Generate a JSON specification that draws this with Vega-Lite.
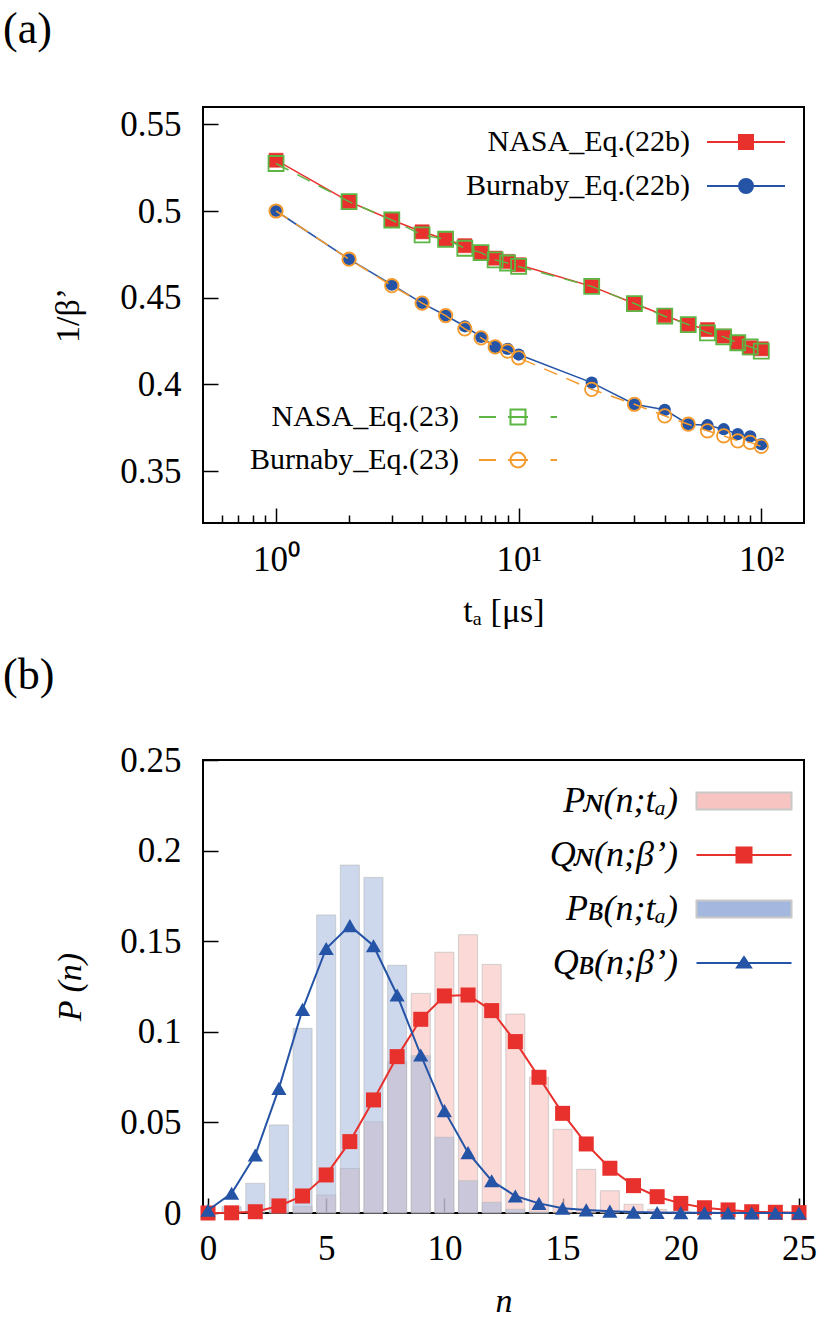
{
  "$schema": "https://vega.github.io/schema/vega-lite/v6.json",
  "background": "white",
  "padding": {"left": 2, "top": 7, "right": 10, "bottom": 5},
  "spacing": 237,
  "bounds": "flush",
  "config": {
    "view": {"stroke": "#000", "strokeWidth": 2},
    "font": "Liberation Serif",
    "axis": {"grid": false, "domain": false, "labelFont": "Liberation Serif", "titleFont": "Liberation Serif", "labelFontSize": 35, "titleFontSize": 34, "tickColor": "#000", "tickWidth": 1.5, "labelColor": "#000", "titleColor": "#000", "titleFontWeight": "normal", "zindex": 1, "labelOverlap": false, "labelFlush": false},
    "legend": {"labelFont": "Liberation Serif", "labelColor": "#000", "symbolOpacity": 1, "padding": 0, "labelLimit": 600, "labelAlign": "right", "symbolStrokeWidth": 2, "orient": "none", "symbolSize": 1600},
    "title": {"font": "Liberation Serif", "fontSize": 44, "fontWeight": "normal", "anchor": "start", "frame": "group", "color": "#000"}
  },
  "vconcat": [
    {
      "width": 601,
      "height": 416,
      "title": {"text": "(a)", "dx": -200, "offset": 20, "baseline": "alphabetic"},
      "data": {"values": [
        {"t":1,"v":0.5293,"series":"NASA_Eq.(22b)"},{"t":2,"v":0.5054,"series":"NASA_Eq.(22b)"},{"t":3,"v":0.4948,"series":"NASA_Eq.(22b)"},{"t":4,"v":0.488,"series":"NASA_Eq.(22b)"},{"t":5,"v":0.4837,"series":"NASA_Eq.(22b)"},{"t":6,"v":0.48,"series":"NASA_Eq.(22b)"},{"t":7,"v":0.476,"series":"NASA_Eq.(22b)"},{"t":8,"v":0.4728,"series":"NASA_Eq.(22b)"},{"t":9,"v":0.4709,"series":"NASA_Eq.(22b)"},{"t":10,"v":0.469,"series":"NASA_Eq.(22b)"},{"t":20,"v":0.4565,"series":"NASA_Eq.(22b)"},{"t":30,"v":0.4466,"series":"NASA_Eq.(22b)"},{"t":40,"v":0.4397,"series":"NASA_Eq.(22b)"},{"t":50,"v":0.4345,"series":"NASA_Eq.(22b)"},{"t":60,"v":0.4316,"series":"NASA_Eq.(22b)"},{"t":70,"v":0.4278,"series":"NASA_Eq.(22b)"},{"t":80,"v":0.424,"series":"NASA_Eq.(22b)"},{"t":90,"v":0.4211,"series":"NASA_Eq.(22b)"},{"t":100,"v":0.4205,"series":"NASA_Eq.(22b)"},
        {"t":1,"v":0.5,"series":"Burnaby_Eq.(22b)"},{"t":2,"v":0.4722,"series":"Burnaby_Eq.(22b)"},{"t":3,"v":0.4575,"series":"Burnaby_Eq.(22b)"},{"t":4,"v":0.4469,"series":"Burnaby_Eq.(22b)"},{"t":5,"v":0.4397,"series":"Burnaby_Eq.(22b)"},{"t":6,"v":0.4335,"series":"Burnaby_Eq.(22b)"},{"t":7,"v":0.4274,"series":"Burnaby_Eq.(22b)"},{"t":8,"v":0.4216,"series":"Burnaby_Eq.(22b)"},{"t":9,"v":0.4205,"series":"Burnaby_Eq.(22b)"},{"t":10,"v":0.4172,"series":"Burnaby_Eq.(22b)"},{"t":20,"v":0.401,"series":"Burnaby_Eq.(22b)"},{"t":30,"v":0.3885,"series":"Burnaby_Eq.(22b)"},{"t":40,"v":0.3853,"series":"Burnaby_Eq.(22b)"},{"t":50,"v":0.377,"series":"Burnaby_Eq.(22b)"},{"t":60,"v":0.3764,"series":"Burnaby_Eq.(22b)"},{"t":70,"v":0.3741,"series":"Burnaby_Eq.(22b)"},{"t":80,"v":0.3713,"series":"Burnaby_Eq.(22b)"},{"t":90,"v":0.37,"series":"Burnaby_Eq.(22b)"},{"t":100,"v":0.3655,"series":"Burnaby_Eq.(22b)"},
        {"t":1,"v":0.5274,"series":"NASA_Eq.(23)"},{"t":2,"v":0.5054,"series":"NASA_Eq.(23)"},{"t":3,"v":0.4948,"series":"NASA_Eq.(23)"},{"t":4,"v":0.4862,"series":"NASA_Eq.(23)"},{"t":5,"v":0.4837,"series":"NASA_Eq.(23)"},{"t":6,"v":0.4785,"series":"NASA_Eq.(23)"},{"t":7,"v":0.476,"series":"NASA_Eq.(23)"},{"t":8,"v":0.4718,"series":"NASA_Eq.(23)"},{"t":9,"v":0.47,"series":"NASA_Eq.(23)"},{"t":10,"v":0.468,"series":"NASA_Eq.(23)"},{"t":20,"v":0.4565,"series":"NASA_Eq.(23)"},{"t":30,"v":0.4466,"series":"NASA_Eq.(23)"},{"t":40,"v":0.4393,"series":"NASA_Eq.(23)"},{"t":50,"v":0.4345,"series":"NASA_Eq.(23)"},{"t":60,"v":0.4297,"series":"NASA_Eq.(23)"},{"t":70,"v":0.4274,"series":"NASA_Eq.(23)"},{"t":80,"v":0.424,"series":"NASA_Eq.(23)"},{"t":90,"v":0.4216,"series":"NASA_Eq.(23)"},{"t":100,"v":0.4192,"series":"NASA_Eq.(23)"},
        {"t":1,"v":0.5,"series":"Burnaby_Eq.(23)"},{"t":2,"v":0.4722,"series":"Burnaby_Eq.(23)"},{"t":3,"v":0.4569,"series":"Burnaby_Eq.(23)"},{"t":4,"v":0.4469,"series":"Burnaby_Eq.(23)"},{"t":5,"v":0.4397,"series":"Burnaby_Eq.(23)"},{"t":6,"v":0.432,"series":"Burnaby_Eq.(23)"},{"t":7,"v":0.4268,"series":"Burnaby_Eq.(23)"},{"t":8,"v":0.4216,"series":"Burnaby_Eq.(23)"},{"t":9,"v":0.4192,"series":"Burnaby_Eq.(23)"},{"t":10,"v":0.4153,"series":"Burnaby_Eq.(23)"},{"t":20,"v":0.3971,"series":"Burnaby_Eq.(23)"},{"t":30,"v":0.3885,"series":"Burnaby_Eq.(23)"},{"t":40,"v":0.3818,"series":"Burnaby_Eq.(23)"},{"t":50,"v":0.377,"series":"Burnaby_Eq.(23)"},{"t":60,"v":0.3732,"series":"Burnaby_Eq.(23)"},{"t":70,"v":0.3703,"series":"Burnaby_Eq.(23)"},{"t":80,"v":0.3674,"series":"Burnaby_Eq.(23)"},{"t":90,"v":0.3665,"series":"Burnaby_Eq.(23)"},{"t":100,"v":0.3642,"series":"Burnaby_Eq.(23)"}
      ]},
      "encoding": {
        "x": {"field": "t", "type": "quantitative", "scale": {"type": "log", "domain": [0.5, 150], "nice": false},
          "axis": {"values": [0.6,0.7,0.8,0.9,1,2,3,4,5,6,7,8,9,10,20,30,40,50,60,70,80,90,100],
            "labelExpr": "datum.value == 1 ? '10⁰' : datum.value == 10 ? '10¹' : datum.value == 100 ? '10²' : ''",
            "tickSize": {"condition": {"test": "datum.value == 1 || datum.value == 10 || datum.value == 100", "value": -15}, "value": -8},
            "labelPadding": 34, "title": "tₐ  [μs]", "titlePadding": 10}},
        "y": {"field": "v", "type": "quantitative", "scale": {"domain": [0.32, 0.56], "nice": false, "zero": false},
          "axis": {"values": [0.35,0.4,0.45,0.5,0.55], "format": ".2~f", "tickSize": -15, "labelPadding": 37, "title": "1/β’", "titlePadding": 34}}
      },
      "layer": [
        {"transform": [{"filter": "datum.series == 'NASA_Eq.(22b)'"}], "mark": {"type": "line", "stroke": "#e8302c", "strokeWidth": 1.5}},
        {"transform": [{"filter": "datum.series == 'Burnaby_Eq.(22b)'"}], "mark": {"type": "line", "stroke": "#2554a6", "strokeWidth": 1.5}},
        {"transform": [{"filter": "datum.series == 'NASA_Eq.(22b)'"}], "mark": {"type": "point", "shape": "square", "filled": true, "fill": "#e8302c", "stroke": "#e8302c", "strokeWidth": 0.5, "size": 200, "opacity": 1}},
        {"transform": [{"filter": "datum.series == 'Burnaby_Eq.(22b)'"}], "mark": {"type": "point", "shape": "circle", "filled": true, "fill": "#2554a6", "size": 150, "opacity": 1}},
        {"transform": [{"filter": "datum.series == 'NASA_Eq.(23)'"}], "mark": {"type": "line", "stroke": "#5db544", "strokeWidth": 1.5, "strokeDash": [14, 10]}},
        {"transform": [{"filter": "datum.series == 'Burnaby_Eq.(23)'"}], "mark": {"type": "line", "stroke": "#f59a2c", "strokeWidth": 1.5, "strokeDash": [14, 10]}},
        {"transform": [{"filter": "datum.series == 'NASA_Eq.(23)'"}], "mark": {"type": "point", "shape": "square", "filled": false, "stroke": "#5db544", "strokeWidth": 1.8, "size": 225, "opacity": 1}},
        {"transform": [{"filter": "datum.series == 'Burnaby_Eq.(23)'"}], "mark": {"type": "point", "shape": "circle", "filled": false, "stroke": "#f59a2c", "strokeWidth": 1.8, "size": 180, "opacity": 1}},
        {"transform": [{"filter": "false"}], "mark": {"type": "point", "filled": true},
          "encoding": {
            "shape": {"field": "series", "type": "nominal", "scale": {"domain": ["NASA_Eq.(22b)", "Burnaby_Eq.(22b)"], "range": ["M-1.95,0H1.95M-0.35,-0.35H0.35V0.35H-0.35Z", "M-1.95,0H1.95M0.35,0A0.35,0.35,0,1,1,-0.35,0A0.35,0.35,0,1,1,0.35,0Z"]},
              "legend": {"title": null, "legendX": 522, "legendY": 14, "labelOffset": -77, "labelFontSize": 30, "rowPadding": 8}},
            "fill": {"field": "series", "type": "nominal", "scale": {"domain": ["NASA_Eq.(22b)", "Burnaby_Eq.(22b)"], "range": ["#e8302c", "#2554a6"]},
              "legend": {"title": null, "legendX": 522, "legendY": 14, "labelOffset": -77, "labelFontSize": 30, "rowPadding": 8}},
            "stroke": {"field": "series", "type": "nominal", "scale": {"domain": ["NASA_Eq.(22b)", "Burnaby_Eq.(22b)"], "range": ["#e8302c", "#2554a6"]},
              "legend": {"title": null, "legendX": 522, "legendY": 14, "labelOffset": -77, "labelFontSize": 30, "rowPadding": 8}}
          }},
        {"transform": [{"filter": "false"}], "mark": {"type": "point", "filled": true},
          "encoding": {
            "shape": {"field": "series", "type": "nominal", "scale": {"domain": ["NASA_Eq.(23)", "Burnaby_Eq.(23)"], "range": ["M-1.95,0H-1.1M-0.5,0H0.5M-0.375,-0.375H0.375V0.375H-0.375ZM1.63,0H1.95", "M-1.95,0H-1.1M-0.5,0H0.5M0.375,0A0.375,0.375,0,1,1,-0.375,0A0.375,0.375,0,1,1,0.375,0ZM1.63,0H1.95"]},
              "legend": {"title": null, "legendX": 294, "legendY": 289, "labelOffset": -80, "labelFontSize": 30, "rowPadding": 7}},
            "fill": {"field": "series", "type": "nominal", "scale": {"domain": ["NASA_Eq.(23)", "Burnaby_Eq.(23)"], "range": ["transparent", "transparent"]},
              "legend": {"title": null, "legendX": 294, "legendY": 289, "labelOffset": -80, "labelFontSize": 30, "rowPadding": 7}},
            "stroke": {"field": "series", "type": "nominal", "scale": {"domain": ["NASA_Eq.(23)", "Burnaby_Eq.(23)"], "range": ["#5db544", "#f59a2c"]},
              "legend": {"title": null, "legendX": 294, "legendY": 289, "labelOffset": -80, "labelFontSize": 30, "rowPadding": 7}}
          }}
      ],
      "resolve": {"scale": {"shape": "independent", "fill": "independent", "stroke": "independent"}}
    },
    {
      "width": 601,
      "height": 453,
      "title": {"text": "(b)", "dx": -200, "offset": 10, "baseline": "alphabetic"},
      "data": {"values": [
        {"n":3,"p":0.001,"series":"PN"},{"n":4,"p":0.0035,"series":"PN"},{"n":5,"p":0.0099,"series":"PN"},{"n":6,"p":0.0246,"series":"PN"},{"n":7,"p":0.0504,"series":"PN"},{"n":8,"p":0.0835,"series":"PN"},{"n":9,"p":0.1212,"series":"PN"},{"n":10,"p":0.1439,"series":"PN"},{"n":11,"p":0.1536,"series":"PN"},{"n":12,"p":0.1372,"series":"PN"},{"n":13,"p":0.1098,"series":"PN"},{"n":14,"p":0.0749,"series":"PN"},{"n":15,"p":0.0462,"series":"PN"},{"n":16,"p":0.0241,"series":"PN"},{"n":17,"p":0.0123,"series":"PN"},{"n":18,"p":0.0048,"series":"PN"},{"n":19,"p":0.002,"series":"PN"},{"n":20,"p":0.0008,"series":"PN"},{"n":21,"p":0.0003,"series":"PN"},
        {"n":1,"p":0.0035,"series":"PB"},{"n":2,"p":0.0164,"series":"PB"},{"n":3,"p":0.0486,"series":"PB"},{"n":4,"p":0.1019,"series":"PB"},{"n":5,"p":0.1645,"series":"PB"},{"n":6,"p":0.192,"series":"PB"},{"n":7,"p":0.1852,"series":"PB"},{"n":8,"p":0.1367,"series":"PB"},{"n":9,"p":0.0868,"series":"PB"},{"n":10,"p":0.0418,"series":"PB"},{"n":11,"p":0.0178,"series":"PB"},{"n":12,"p":0.0059,"series":"PB"},{"n":13,"p":0.002,"series":"PB"},{"n":14,"p":0.0006,"series":"PB"},
        {"n":0,"p":0.0,"series":"QN"},{"n":1,"p":0.0001,"series":"QN"},{"n":2,"p":0.0007,"series":"QN"},{"n":3,"p":0.0039,"series":"QN"},{"n":4,"p":0.0094,"series":"QN"},{"n":5,"p":0.021,"series":"QN"},{"n":6,"p":0.0394,"series":"QN"},{"n":7,"p":0.0624,"series":"QN"},{"n":8,"p":0.0863,"series":"QN"},{"n":9,"p":0.1069,"series":"QN"},{"n":10,"p":0.1198,"series":"QN"},{"n":11,"p":0.1203,"series":"QN"},{"n":12,"p":0.1117,"series":"QN"},{"n":13,"p":0.0946,"series":"QN"},{"n":14,"p":0.0749,"series":"QN"},{"n":15,"p":0.055,"series":"QN"},{"n":16,"p":0.0381,"series":"QN"},{"n":17,"p":0.0247,"series":"QN"},{"n":18,"p":0.0151,"series":"QN"},{"n":19,"p":0.009,"series":"QN"},{"n":20,"p":0.0053,"series":"QN"},{"n":21,"p":0.0029,"series":"QN"},{"n":22,"p":0.0017,"series":"QN"},{"n":23,"p":0.0007,"series":"QN"},{"n":24,"p":0.0004,"series":"QN"},{"n":25,"p":0.0002,"series":"QN"},
        {"n":0,"p":0.0015,"series":"QB"},{"n":1,"p":0.0109,"series":"QB"},{"n":2,"p":0.032,"series":"QB"},{"n":3,"p":0.0688,"series":"QB"},{"n":4,"p":0.1124,"series":"QB"},{"n":5,"p":0.146,"series":"QB"},{"n":6,"p":0.1586,"series":"QB"},{"n":7,"p":0.1475,"series":"QB"},{"n":8,"p":0.1203,"series":"QB"},{"n":9,"p":0.0872,"series":"QB"},{"n":10,"p":0.0565,"series":"QB"},{"n":11,"p":0.0333,"series":"QB"},{"n":12,"p":0.0178,"series":"QB"},{"n":13,"p":0.0094,"series":"QB"},{"n":14,"p":0.0053,"series":"QB"},{"n":15,"p":0.0026,"series":"QB"},{"n":16,"p":0.0017,"series":"QB"},{"n":17,"p":0.001,"series":"QB"},{"n":18,"p":0.0005,"series":"QB"},{"n":19,"p":0.0003,"series":"QB"},{"n":20,"p":0.0002,"series":"QB"},{"n":21,"p":0.0001,"series":"QB"},{"n":22,"p":0.0,"series":"QB"},{"n":23,"p":0.0,"series":"QB"},{"n":24,"p":0.0,"series":"QB"},{"n":25,"p":0.0,"series":"QB"}
      ]},
      "encoding": {
        "x": {"field": "n", "type": "quantitative", "scale": {"domain": [0, 25], "nice": false},
          "axis": {"values": [0,5,10,15,20,25], "format": "d", "tickSize": -15, "labelPadding": 33, "title": "n", "titleFontStyle": "italic", "titlePadding": 18}},
        "y": {"field": "p", "type": "quantitative", "scale": {"domain": [0, 0.25], "nice": false},
          "axis": {"values": [0,0.05,0.1,0.15,0.2,0.25], "format": ".2~f", "tickSize": -15, "labelPadding": 37, "title": "P (n)", "titleFontStyle": "italic", "titlePadding": 32}}
      },
      "layer": [
        {"transform": [{"filter": "datum.series == 'PN'"}], "mark": {"type": "bar", "orient": "vertical", "size": 19, "fill": "#f8c4c2", "fillOpacity": 0.65, "stroke": "#b8b8b8", "strokeWidth": 1, "strokeOpacity": 0.6}},
        {"transform": [{"filter": "datum.series == 'PB'"}], "mark": {"type": "bar", "orient": "vertical", "size": 19, "fill": "#a4b8df", "fillOpacity": 0.55, "stroke": "#b8b8b8", "strokeWidth": 1, "strokeOpacity": 0.6}},
        {"transform": [{"filter": "datum.series == 'QN'"}], "mark": {"type": "line", "stroke": "#e8302c", "strokeWidth": 2}},
        {"transform": [{"filter": "datum.series == 'QN'"}], "mark": {"type": "point", "shape": "square", "filled": true, "fill": "#e8302c", "size": 225, "opacity": 1}},
        {"transform": [{"filter": "datum.series == 'QB'"}], "mark": {"type": "line", "stroke": "#2554a6", "strokeWidth": 2}},
        {"transform": [{"filter": "datum.series == 'QB'"}], "mark": {"type": "point", "shape": "triangle-up", "filled": true, "fill": "#2554a6", "size": 230, "opacity": 1}},
        {"transform": [{"filter": "false"}], "mark": {"type": "point", "filled": true},
          "encoding": {
            "shape": {"field": "series", "type": "nominal", "scale": {"domain": ["PN", "QN", "PB", "QB"], "range": ["M-2.375,-0.425H2.375V0.425H-2.375Z", "M-2.375,0H2.375M-0.375,-0.375H0.375V0.375H-0.375Z", "M-2.375,-0.425H2.375V0.425H-2.375Z", "M-2.375,0H2.375M0,-0.3L0.35,0.22L-0.35,0.22Z"]},
              "legend": {"title": null, "legendX": 520, "legendY": 673, "labelOffset": -87, "labelFontSize": 36, "labelFontStyle": "italic", "rowPadding": 15,
                "labelExpr": "datum.value == 'PN' ? 'Pɴ(n;tₐ)' : datum.value == 'QN' ? 'Qɴ(n;β’)' : datum.value == 'PB' ? 'Pʙ(n;tₐ)' : 'Qʙ(n;β’)'"}},
            "fill": {"field": "series", "type": "nominal", "scale": {"domain": ["PN", "QN", "PB", "QB"], "range": ["#f8c4c2", "#e8302c", "#a4b8df", "#2554a6"]},
              "legend": {"title": null, "legendX": 520, "legendY": 673, "labelOffset": -87, "labelFontSize": 36, "labelFontStyle": "italic", "rowPadding": 15,
                "labelExpr": "datum.value == 'PN' ? 'Pɴ(n;tₐ)' : datum.value == 'QN' ? 'Qɴ(n;β’)' : datum.value == 'PB' ? 'Pʙ(n;tₐ)' : 'Qʙ(n;β’)'"}},
            "stroke": {"field": "series", "type": "nominal", "scale": {"domain": ["PN", "QN", "PB", "QB"], "range": ["#c8c8c8", "#e8302c", "#c8c8c8", "#2554a6"]},
              "legend": {"title": null, "legendX": 520, "legendY": 673, "labelOffset": -87, "labelFontSize": 36, "labelFontStyle": "italic", "rowPadding": 15,
                "labelExpr": "datum.value == 'PN' ? 'Pɴ(n;tₐ)' : datum.value == 'QN' ? 'Qɴ(n;β’)' : datum.value == 'PB' ? 'Pʙ(n;tₐ)' : 'Qʙ(n;β’)'"}}
          }}
      ]
    }
  ]
}
